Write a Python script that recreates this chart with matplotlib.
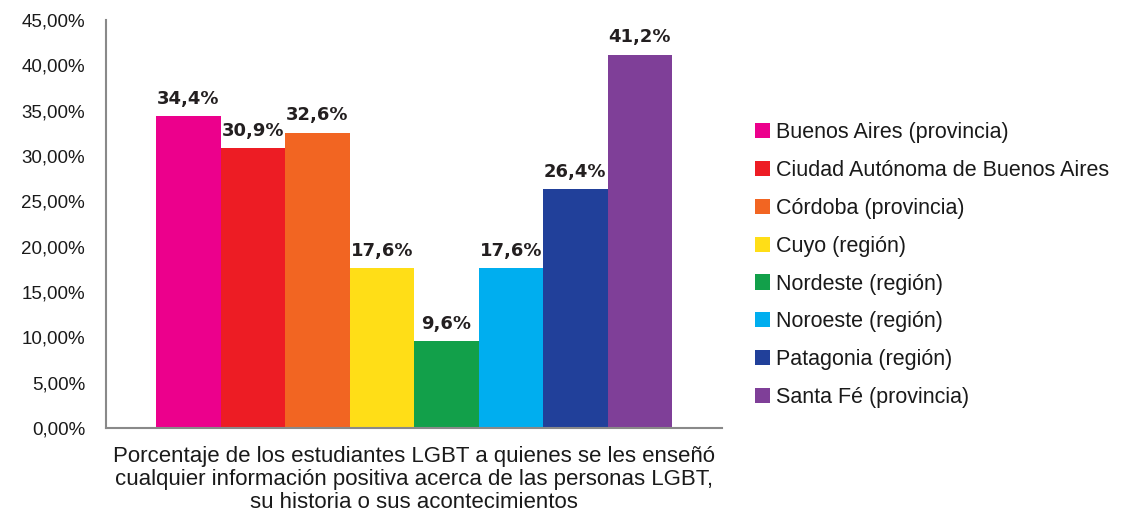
import matplotlib
matplotlib.use("Agg")
import matplotlib.pyplot as plt
from matplotlib.patches import Patch
from matplotlib.ticker import FuncFormatter

regions = [
    "Buenos Aires (provincia)",
    "Ciudad Autónoma de Buenos Aires",
    "Córdoba (provincia)",
    "Cuyo (región)",
    "Nordeste (región)",
    "Noroeste (región)",
    "Patagonia (región)",
    "Santa Fé (provincia)",
]
values = [34.4, 30.9, 32.6, 17.6, 9.6, 17.6, 26.4, 41.2]
colors = ["#EC008C", "#ED1C24", "#F26522", "#FFDE17",
          "#12A04A", "#00AEEF", "#21409A", "#7F3F98"]
category = ("Porcentaje de los estudiantes LGBT a quienes se les enseñó\n"
            "cualquier información positiva acerca de las personas LGBT,\n"
            "su historia o sus acontecimientos")

plt.rcParams["font.family"] = ["Liberation Sans", "DejaVu Sans"]

fig = plt.figure(figsize=(11.29, 5.17), dpi=100)
ax = fig.add_axes([0.0939, 0.1721, 0.5456, 0.789])

n = len(values)
bar_w = 0.8377 / n
start = -0.8377 / 2 + bar_w / 2
for i, (v, c) in enumerate(zip(values, colors)):
    x = start + i * bar_w
    ax.bar(x, v, width=bar_w, color=c, linewidth=0)
    ax.text(x, v + 0.9, f"{v:.1f}%".replace(".", ","), ha="center", va="bottom",
            fontsize=13, fontweight="bold", color="#231F20",
            family=["DejaVu Sans"])

ax.set_xlim(-0.5, 0.5)
ax.set_ylim(0, 45)
ax.set_yticks(range(0, 46, 5))
ax.yaxis.set_major_formatter(FuncFormatter(lambda y, _: f"{y:.2f}%".replace(".", ",")))
ax.tick_params(axis="y", length=0, labelsize=13.5, pad=15, labelcolor="#1a1a1a")
ax.set_xticks([])
for s in ("top", "right"):
    ax.spines[s].set_visible(False)
for s in ("left", "bottom"):
    ax.spines[s].set_color("#898989")
    ax.spines[s].set_linewidth(1.5)

fig.text(414 / 1129, 1 - 446 / 517, category, ha="center", va="top",
         fontsize=16, color="#1a1a1a", linespacing=1.13)

handles = [Patch(facecolor=c, edgecolor="none") for c in colors]
fig.legend(handles, regions, loc="upper left",
           bbox_to_anchor=(736 / 1129, 1 - 103 / 517), frameon=False,
           fontsize=15.5, handlelength=0.7, handleheight=0.7,
           handletextpad=0.25, labelspacing=0.78, labelcolor="#1a1a1a")

fig.savefig("out.png", dpi=100)
